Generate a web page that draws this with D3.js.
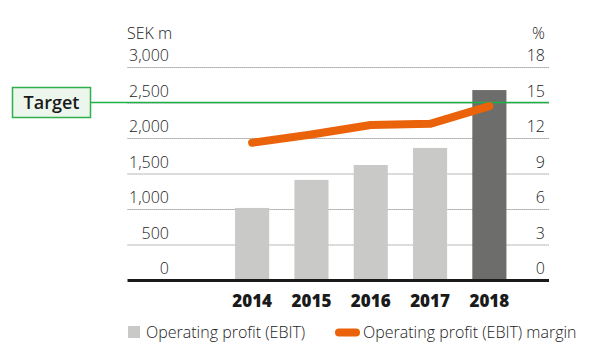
<!DOCTYPE html>
<html><head><meta charset="utf-8">
<script src="https://cdn.jsdelivr.net/npm/d3@7/dist/d3.min.js"></script>
<style>body{margin:0;background:#fff}svg{display:block}text{font-family:"Open Sans",Lato,sans-serif}</style>
</head><body><svg id="c" width="613" height="360"></svg>
<script>
const years = ["2014","2015","2016","2017","2018"];
const ebit = [1015, 1410, 1620, 1860, 2675];
const margin = [11.6, 12.3, 13.1, 13.2, 14.7];
const leftTicks = [0, 500, 1000, 1500, 2000, 2500, 3000];
const rightTicks = [0, 3, 6, 9, 12, 15, 18];
const targetMargin = 15;

const svg = d3.select("#c");
const x0 = 127.5, x1 = 549;
const y = d3.scaleLinear().domain([0, 3000]).range([280, 67]);
const yr = d3.scaleLinear().domain([0, 18]).range([280, 67]);
const x = d3.scaleBand().domain(years).range([222.5, 519]).paddingInner(0.425).paddingOuter(0.212);
const txt = "#222";

// gridlines
svg.selectAll(".grid").data(leftTicks.filter(d => d > 0)).join("line")
  .attr("x1", x0).attr("x2", x1).attr("y1", d => y(d) + 0.5).attr("y2", d => y(d) + 0.5)
  .attr("stroke", "#8a8a8a").attr("stroke-width", 1).attr("stroke-dasharray", "1.2,0.8");

// left labels
svg.selectAll(".lt").data(leftTicks).join("text")
  .attr("x", 169).attr("y", d => y(d) - 6).attr("text-anchor", "end")
  .attr("font-size", 16).attr("font-weight", 300).attr("fill", txt)
  .text(d => d3.format(",")(d));
svg.selectAll(".rt").data(rightTicks).join("text")
  .attr("x", 545).attr("y", d => yr(d) - 6).attr("text-anchor", "end")
  .attr("font-size", 16).attr("font-weight", 300).attr("fill", txt)
  .text(d => d);
svg.append("text").attr("x", 127).attr("y", 39).attr("font-size", 16).attr("font-weight", 300).attr("fill", txt).text("SEK m");
svg.append("text").attr("x", 545).attr("y", 39).attr("text-anchor", "end").attr("font-size", 16).attr("font-weight", 300).attr("fill", txt).text("%");

// bars
svg.selectAll(".bar").data(years).join("rect")
  .attr("x", d => x(d)).attr("width", x.bandwidth())
  .attr("y", (d, i) => y(ebit[i])).attr("height", (d, i) => y(0) - y(ebit[i]))
  .attr("fill", (d, i) => i === years.length - 1 ? "#6d6d6b" : "#c9c9c7");

// target line
svg.append("line").attr("x1", 91).attr("x2", x1).attr("y1", yr(targetMargin)).attr("y2", yr(targetMargin))
  .attr("stroke", "#1fb04a").attr("stroke-width", 1.5);
svg.append("rect").attr("x", 12.5).attr("y", 87.5).attr("width", 78).attr("height", 30)
  .attr("fill", "#edf6ec").attr("stroke", "#2fb04c").attr("stroke-width", 1.5);
svg.append("text").attr("x", 51.5).attr("y", 109).attr("text-anchor", "middle")
  .attr("font-size", 18).attr("font-weight", 600).attr("fill", "#1a1a1a").text("Target");

// margin line
const line = d3.line().x((d, i) => x(years[i]) + x.bandwidth() / 2).y(d => yr(d));
svg.append("path").datum(margin).attr("d", line).attr("fill", "none")
  .attr("stroke", "#ea6209").attr("stroke-width", 8).attr("stroke-linecap", "round").attr("stroke-linejoin", "round");

// baseline
svg.append("line").attr("x1", x0).attr("x2", x1).attr("y1", 280.5).attr("y2", 280.5)
  .attr("stroke", "#1a1a1a").attr("stroke-width", 3);

// year labels
svg.selectAll(".yl").data(years).join("text")
  .attr("x", d => x(d) + x.bandwidth() / 2).attr("y", 307).attr("text-anchor", "middle")
  .attr("font-size", 17).attr("font-weight", 800).attr("fill", "#1a1a1a").text(d => d);

// legend
svg.append("rect").attr("x", 128).attr("y", 326).attr("width", 12).attr("height", 12).attr("fill", "#c9c9c7");
svg.append("text").attr("x", 146).attr("y", 338).attr("font-size", 16).attr("font-weight", 300).attr("fill", txt).text("Operating profit (EBIT)");
svg.append("line").attr("x1", 339).attr("x2", 356).attr("y1", 332.5).attr("y2", 332.5)
  .attr("stroke", "#ea6209").attr("stroke-width", 8).attr("stroke-linecap", "round");
svg.append("text").attr("x", 363).attr("y", 338).attr("font-size", 16).attr("font-weight", 300).attr("fill", txt).text("Operating profit (EBIT) margin");
</script></body></html>
